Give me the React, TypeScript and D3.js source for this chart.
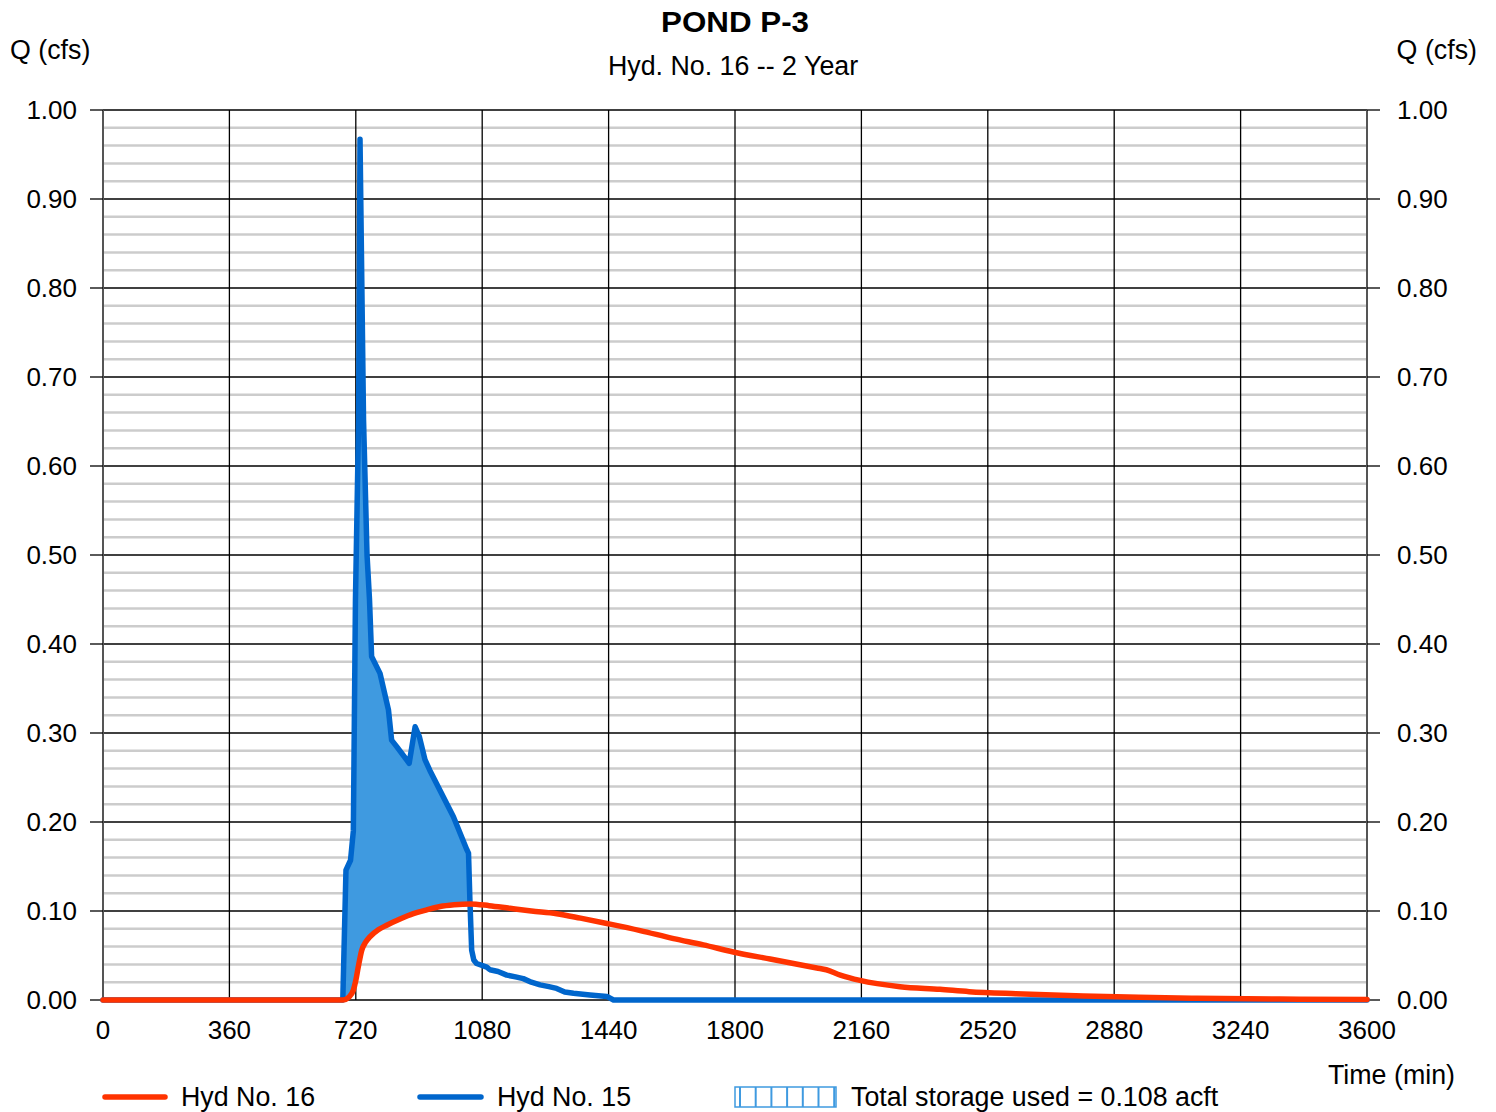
import React from "react";
import * as d3 from "d3";

// Hyd No. 15 (inflow)
const hyd15Time = [0, 683, 692, 705, 713, 719, 728, 732, 742, 752, 759, 765, 789, 813, 822, 836, 872, 889, 901, 917, 931, 998, 1036, 1041, 1045, 1050, 1056, 1064, 1093, 1102, 1125, 1150, 1175, 1197, 1220, 1245, 1270, 1292, 1315, 1340, 1387, 1435, 1454, 3600];
const hyd15Q = [0, 0, 0.146, 0.157, 0.19, 0.449, 0.652, 0.967, 0.652, 0.5, 0.45, 0.386, 0.367, 0.326, 0.292, 0.285, 0.266, 0.307, 0.296, 0.27, 0.258, 0.206, 0.169, 0.165, 0.112, 0.056, 0.045, 0.041, 0.037, 0.034, 0.032, 0.028, 0.026, 0.024, 0.02, 0.017, 0.015, 0.013, 0.009, 0.0075, 0.0056, 0.004, 0, 0];

// Hyd No. 16 (outflow)
const hyd16Time = [0, 684, 700, 713, 720, 727, 737, 748, 760, 784, 808, 846, 884, 920, 960, 1000, 1045, 1100, 1159, 1220, 1292, 1360, 1435, 1530, 1625, 1710, 1795, 1900, 2033, 2060, 2100, 2156, 2270, 2384, 2467, 2600, 2792, 2950, 3115, 3350, 3600];
const hyd16Q = [0, 0, 0.003, 0.011, 0.022, 0.037, 0.056, 0.065, 0.071, 0.079, 0.084, 0.091, 0.097, 0.101, 0.105, 0.107, 0.108, 0.106, 0.103, 0.1, 0.097, 0.092, 0.086, 0.078, 0.069, 0.062, 0.054, 0.046, 0.036, 0.034, 0.028, 0.022, 0.015, 0.012, 0.0094, 0.007, 0.0045, 0.003, 0.002, 0.001, 0.0005];

const xTicks = [0, 360, 720, 1080, 1440, 1800, 2160, 2520, 2880, 3240, 3600];
const yTicks = [0, 0.1, 0.2, 0.3, 0.4, 0.5, 0.6, 0.7, 0.8, 0.9, 1.0];
const yMinor = d3.range(0, 50).map((i) => i * 0.02).filter((v, i) => i % 5 !== 0);

const title = "POND P-3";
const subtitle = "Hyd. No. 16 -- 2 Year";
const legendItems = ["Hyd No. 16", "Hyd No. 15", "Total storage used = 0.108 acft"];

const RED = "#ff3300";
const BLUE = "#0066cc";
const FILL = "#3f9ae0";
const FONT = "Liberation Sans, Arial, sans-serif";

function interp(ts: number[], qs: number[], t: number) {
  const i = d3.bisectRight(ts, t);
  if (i <= 0) return qs[0];
  if (i >= ts.length) return qs[qs.length - 1];
  const t0 = ts[i - 1], t1 = ts[i];
  const f = (t - t0) / (t1 - t0);
  return qs[i - 1] + f * (qs[i] - qs[i - 1]);
}

export default function App() {
  const W = 1496, H = 1112;
  const x = d3.scaleLinear().domain([0, 3600]).range([103, 1367]);
  const y = d3.scaleLinear().domain([0, 1]).range([1000, 110]);

  const line = d3.line<[number, number]>().x((d) => x(d[0])).y((d) => y(d[1]));
  const smoothLine = d3.line<[number, number]>().x((d) => x(d[0])).y((d) => y(d[1])).curve(d3.curveMonotoneX);
  const blue: [number, number][] = hyd15Time.map((t, i) => [t, hyd15Q[i]]);
  const red: [number, number][] = hyd16Time.map((t, i) => [t, hyd16Q[i]]);

  const allT = Array.from(new Set([...hyd15Time, ...hyd16Time, ...d3.range(680, 1100, 1)])).sort((a, b) => a - b).filter((t) => t >= 680 && t <= 1100);
  const fillData = allT.map((t) => {
    const b = interp(hyd15Time, hyd15Q, t);
    const r = interp(hyd16Time, hyd16Q, t);
    return { t, r, b: Math.max(b, r) };
  });
  const area = d3.area<{ t: number; r: number; b: number }>()
    .x((d) => x(d.t))
    .y0((d) => y(d.r))
    .y1((d) => y(d.b));

  const fs = 26;
  const fl = 26.8;

  return (
    <svg width={W} height={H} style={{ position: "absolute", left: 0, top: 0, background: "#fff" }} fontFamily={FONT}>
      <rect x={0} y={0} width={W} height={H} fill="#fff" />
      {yMinor.map((v) => (
        <line key={"m" + v} x1={x(0)} x2={x(3600)} y1={y(v)} y2={y(v)} stroke="#cccccc" strokeWidth={2.5} />
      ))}
      {yTicks.map((v) => (
        <line key={"h" + v} x1={x(0)} x2={x(3600)} y1={y(v)} y2={y(v)} stroke="#000" strokeWidth={1.3} />
      ))}
      {xTicks.map((v) => (
        <line key={"v" + v} x1={x(v)} x2={x(v)} y1={y(1)} y2={y(0)} stroke={v === 0 || v === 3600 ? "#555" : "#000"} strokeWidth={v === 0 || v === 3600 ? 2 : 1.3} />
      ))}
      {yTicks.map((v) => (
        <g key={"t" + v}>
          <line x1={90} x2={x(0)} y1={y(v)} y2={y(v)} stroke="#000" strokeWidth={1.3} />
          <line x1={x(3600)} x2={1380} y1={y(v)} y2={y(v)} stroke="#000" strokeWidth={1.3} />
          <text x={77} y={y(v)} dy="0.36em" textAnchor="end" fontSize={fs}>{v.toFixed(2)}</text>
          <text x={1397} y={y(v)} dy="0.36em" textAnchor="start" fontSize={fs}>{v.toFixed(2)}</text>
        </g>
      ))}
      {xTicks.map((v) => (
        <text key={"xl" + v} x={x(v)} y={1039} textAnchor="middle" fontSize={fs}>{v}</text>
      ))}
      <path d={area(fillData) || ""} fill={FILL} stroke="none" />
      <path d={line(blue) || ""} fill="none" stroke={BLUE} strokeWidth={5.5} strokeLinejoin="round" strokeLinecap="round" />
      <path d={smoothLine(red) || ""} fill="none" stroke={RED} strokeWidth={5.5} strokeLinejoin="round" strokeLinecap="round" />
      <text x={735} y={32} textAnchor="middle" fontSize={29} fontWeight="bold" textLength={148} lengthAdjust="spacingAndGlyphs">{title}</text>
      <text x={733} y={75} textAnchor="middle" fontSize={fl}>{subtitle}</text>
      <text x={10} y={59} fontSize={fl}>Q (cfs)</text>
      <text x={1477} y={59} textAnchor="end" fontSize={fl}>Q (cfs)</text>
      <text x={1455} y={1084} textAnchor="end" fontSize={fl}>Time (min)</text>
      <line x1={105} x2={165} y1={1097} y2={1097} stroke={RED} strokeWidth={5.5} strokeLinecap="round" />
      <text x={181} y={1106} fontSize={fl}>{legendItems[0]}</text>
      <line x1={420} x2={481} y1={1097} y2={1097} stroke={BLUE} strokeWidth={5.5} strokeLinecap="round" />
      <text x={497} y={1106} fontSize={fl}>{legendItems[1]}</text>
      <g>
        <rect x={735} y={1087} width={101} height={20} fill="none" stroke={FILL} strokeWidth={1.5} />
        {d3.range(0, 7).map((i) => (
          <line key={"lp" + i} x1={740 + i * 15.7} x2={740 + i * 15.7} y1={1087} y2={1107} stroke={FILL} strokeWidth={2} />
        ))}
      </g>
      <text x={851} y={1106} fontSize={fl}>{legendItems[2]}</text>
    </svg>
  );
}
